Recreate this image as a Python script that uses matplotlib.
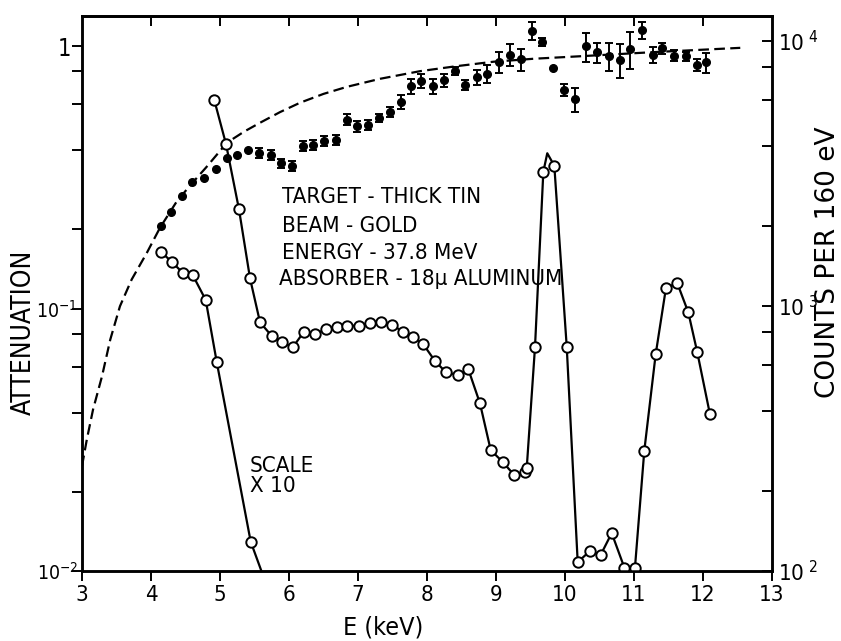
import numpy as np
import matplotlib
matplotlib.use("Agg")
import matplotlib.pyplot as plt
from matplotlib import font_manager as fm
from matplotlib.ticker import FixedLocator, NullFormatter


def pick_font():
    """Prefer a narrow sans face; fall back to a regular one at a smaller size."""
    candidates = [('Liberation Sans Narrow', 'normal', 'narrow'),
                  ('DejaVu Sans', 'condensed', 'condensed'),
                  ('Roboto Condensed', 'normal', 'condensed'),
                  ('Open Sans Condensed', 'normal', 'condensed')]
    for fam, stretch, key in candidates:
        try:
            path = fm.findfont(fm.FontProperties(family=fam, stretch=stretch),
                               fallback_to_default=False)
        except Exception:
            continue
        if key in path.lower().replace('-', ''):
            return fm.FontProperties(fname=path).get_name(), stretch, 1.0
    return 'Liberation Sans', 'normal', 0.84


FONT, STRETCH, FS = pick_font()
plt.rcParams['font.family'] = [FONT, 'DejaVu Sans']
plt.rcParams['font.stretch'] = STRETCH
plt.rcParams['mathtext.default'] = 'regular'

nan = np.nan

# Measured attenuation (filled dots with error bars), left axis
att_E = [4.14, 4.29, 4.445, 4.60, 4.77, 4.94, 5.10, 5.25, 5.41, 5.565,
         5.735, 5.89, 6.04, 6.20, 6.35, 6.51, 6.68, 6.84, 6.99, 7.15,
         7.30, 7.46, 7.62, 7.77, 7.92, 8.08, 8.24, 8.40, 8.555, 8.72,
         8.87, 9.04, 9.20, 9.36, 9.52, 9.67, 9.82, 9.99, 10.14, 10.30,
         10.46, 10.64, 10.80, 10.94, 11.11, 11.27, 11.40, 11.58, 11.75, 11.91,
         12.05]
att_val = [0.207, 0.234, 0.269, 0.304, 0.314, 0.340, 0.373, 0.385, 0.403, 0.391,
           0.385, 0.357, 0.350, 0.417, 0.421, 0.435, 0.440, 0.524, 0.494, 0.500,
           0.531, 0.562, 0.614, 0.702, 0.738, 0.702, 0.742, 0.802, 0.713, 0.760,
           0.782, 0.867, 0.925, 0.892, 1.143, 1.038, 0.822, 0.682, 0.628, 0.997,
           0.946, 0.914, 0.885, 0.974, 1.150, 0.925, 0.980, 0.918, 0.914, 0.849,
           0.867]
att_err = [nan, nan, nan, nan, nan, nan, nan, nan, nan, 0.017,
           0.017, 0.015, 0.015, 0.018, 0.019, 0.019, 0.019, 0.025, 0.022, 0.022,
           0.019, 0.025, 0.038, 0.046, 0.045, 0.046, 0.042, 0.028, 0.031, 0.047,
           0.062, 0.080, 0.089, 0.086, 0.090, 0.036, nan, 0.036, 0.066, 0.127,
           0.083, 0.112, 0.132, 0.154, 0.088, 0.065, 0.047, 0.044, 0.036, 0.045,
           0.076]

# Calculated transmission of the aluminium absorber (dashed curve), left axis
calc_E = [3.0, 3.07, 3.16, 3.29, 3.41, 3.55, 3.72, 3.94, 4.13, 4.37,
          4.57, 4.80, 5.10, 5.35, 5.58, 5.87, 6.16, 6.50, 6.84, 7.32,
          7.90, 8.43, 8.96, 9.54, 10.22, 11.23, 12.54]
calc_A = [0.0251, 0.0317, 0.0412, 0.0552, 0.0762, 0.102, 0.129, 0.163, 0.203, 0.255,
          0.295, 0.345, 0.428, 0.472, 0.510, 0.560, 0.608, 0.657, 0.699, 0.750,
          0.802, 0.838, 0.871, 0.894, 0.914, 0.946, 0.984]

# X-ray spectrum (open circles), right axis
spec_E = [4.917, 5.087, 5.275, 5.435, 5.58, 5.749, 5.894, 6.054, 6.217, 6.377,
          6.536, 6.691, 6.836, 7.014, 7.174, 7.333, 7.488, 7.657, 7.793, 7.946,
          8.116, 8.275, 8.445, 8.599, 8.768, 8.923, 9.097, 9.265, 9.42, 9.445,
          9.565, 9.686, 9.845, 10.025, 10.184, 10.362, 10.517, 10.677, 10.86, 11.014,
          11.149, 11.314, 11.464, 11.628, 11.787, 11.917, 12.101]
spec_counts = [5990, 4085, 2317, 1272, 868, 771, 733, 698, 800, 784,
               817, 835, 843, 843, 860, 868, 848, 800, 766, 717,
               620, 562, 549, 577, 429, 286, 258, 230, 237, 244,
               698, 3212, 3383, 702, 108, 119, 115, 139, 103, 103,
               284, 657, 1173, 1218, 946, 669, 390]
# top of the drawn peak between the two highest points
peak_E, peak_counts = 9.743, 3770

# Low-energy part, drawn at 1/10 scale
low_E = [4.141, 4.30, 4.459, 4.604, 4.793, 4.952, 5.445]
low_counts = [1603, 1469, 1335, 1309, 1054, 616, 129]
# where the drawn curve meets the bottom axis
low_end_E, low_end_counts = 5.60, 100

x_ticks = list(range(3, 14))
att_major = [0.01, 0.1, 1]
att_major_labels = [r'$10^{-2}$', r'$10^{-1}$', '1']
att_minor = [0.02, 0.04, 0.06, 0.08, 0.2, 0.4, 0.6, 0.8]
cnt_major = [100, 1000, 10000]
cnt_major_labels = [r'$10^{\ 2}$', r'$10^{\ 3}$', r'$10^{\ 4}$']
cnt_minor = [200, 400, 600, 800, 2000, 4000, 6000, 8000]

info_lines = ['TARGET - THICK TIN', 'BEAM - GOLD', 'ENERGY - 37.8 MeV',
              'ABSORBER - 18\u03bc ALUMINUM']

W, H = 841, 641
fig = plt.figure(figsize=(W / 100, H / 100), dpi=100)
x0, x1, y0, y1 = 82, 772, 571, 16
ax = fig.add_axes([x0 / W, 1 - y0 / H, (x1 - x0) / W, (y0 - y1) / H])
ax2 = ax.twinx()

lw = 1.6
ax.plot(calc_E, calc_A, color='black', lw=lw, ls=(0, (4.8, 2.4)))
ax.errorbar(att_E, att_val, yerr=att_err, fmt='o', color='black', ms=5.5,
            elinewidth=1.4, capsize=2.6, capthick=1.4)

order = np.argsort(np.r_[spec_E, peak_E])
line_E = np.r_[spec_E, peak_E][order]
line_C = np.r_[spec_counts, peak_counts][order]
ax2.plot(line_E, line_C, color='black', lw=lw)
ax2.plot(spec_E, spec_counts, 'o', mfc='white', mec='black', ms=7.5, mew=1.4)
ax2.plot(low_E + [low_end_E], low_counts + [low_end_counts], color='black', lw=lw)
ax2.plot(low_E, low_counts, 'o', mfc='white', mec='black', ms=7.5, mew=1.4)

# axes
ax.set_xlim(3, 13)
ax.set_yscale('log')
ax.set_ylim(0.01, 10 ** 0.1143)
ax2.set_yscale('log')
ax2.set_ylim(100, 10 ** 4.0943)

ax.set_xticks(x_ticks)
ax.set_xticklabels([str(t) for t in x_ticks])
ax.tick_params(axis='x', which='both', direction='out', length=7, width=1.4,
               labelsize=16 * FS, pad=3, top=False)
top = ax.secondary_xaxis('top')
top.set_xticks(x_ticks[1:-1])
top.tick_params(direction='in', length=7, width=1.4, labeltop=False)
top.spines['top'].set_linewidth(1.8)

ax.yaxis.set_major_locator(FixedLocator(att_major))
ax.yaxis.set_minor_locator(FixedLocator(att_minor))
ax.set_yticklabels(att_major_labels)
ax.yaxis.set_minor_formatter(NullFormatter())
ax.tick_params(axis='y', which='both', direction='out', length=7, width=1.4,
               labelsize=17 * FS, pad=1)
# the power-of-ten labels are set a little smaller and tucked against the ticks
for tick, lab in zip(ax.yaxis.get_major_ticks(), att_major_labels):
    if lab.startswith('$'):
        tick.label1.set_fontsize(14 * FS)
        tick.label1.set_x(7 / (x1 - x0))

ax2.yaxis.set_major_locator(FixedLocator(cnt_major))
ax2.yaxis.set_minor_locator(FixedLocator(cnt_minor))
ax2.set_yticklabels(cnt_major_labels)
ax2.yaxis.set_minor_formatter(NullFormatter())
ax2.tick_params(axis='y', which='both', direction='in', length=7, width=1.4,
                labelsize=16 * FS, pad=4)

for a in (ax, ax2):
    for s in a.spines.values():
        s.set_linewidth(1.8)

ax.set_xlabel('E (keV)', fontsize=18 * FS)
ax.xaxis.set_label_coords((383 - x0) / (x1 - x0), (y0 - 615) / (y0 - y1))
ax.set_ylabel('ATTENUATION', fontsize=19 * FS)
ax.yaxis.set_label_coords((37 - x0) / (x1 - x0), (y0 - 332) / (y0 - y1))
ax2.set_ylabel('COUNTS PER 160 eV', fontsize=19, family='DejaVu Sans',
               fontstretch='normal')
ax2.yaxis.set_label_coords((815 - x0) / (x1 - x0), (y0 - 262) / (y0 - y1))


def axfrac(px, py):
    """Pixel position in the figure to axes fraction."""
    return (px - x0) / (x1 - x0), (y0 - py) / (y0 - y1)


for (px, py), txt in zip([(282, 203), (282, 232), (282, 259), (279, 285)], info_lines):
    ax.text(*axfrac(px, py), txt, transform=ax.transAxes, fontsize=16 * FS,
            va='baseline', ha='left')
ax.text(*axfrac(250, 472), 'SCALE', transform=ax.transAxes, fontsize=16 * FS,
        va='baseline', ha='left')
ax.text(*axfrac(250, 492), 'X 10', transform=ax.transAxes, fontsize=16 * FS,
        va='baseline', ha='left')

fig.savefig('out.png', dpi=100)
